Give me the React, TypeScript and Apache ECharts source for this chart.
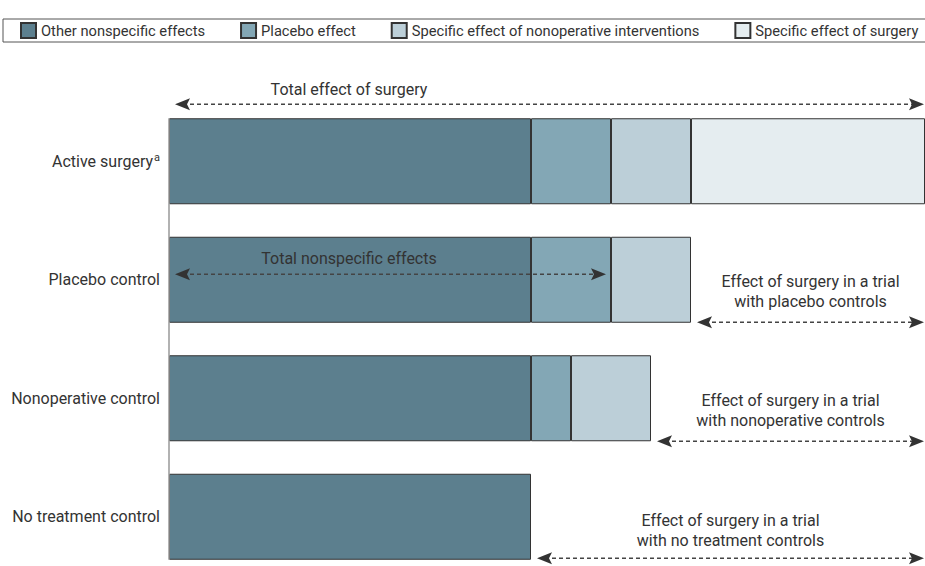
import React, { useEffect, useRef } from "react";
import * as echarts from "echarts";

const categories = ["Active surgery", "Placebo control", "Nonoperative control", "No treatment control"];
const seriesNames = [
  "Other nonspecific effects",
  "Placebo effect",
  "Specific effect of nonoperative interventions",
  "Specific effect of surgery",
];
const otherNonspecific = [9.05, 9.05, 9.05, 9.05];
const placeboEffect: (number | null)[] = [2, 2, 1, null];
const specificNonoperative: (number | null)[] = [2, 2, 2, null];
const specificSurgery: (number | null)[] = [5.85, null, null, null];
const xMax = 18.9;

const colors = ["#5c7f8e", "#83a7b5", "#bccfd8", "#e5edf0"];
const FONT = "Roboto, 'Noto Sans', sans-serif";

// annotation definitions: which row, span in data units, and label text
const annotations = [
  { text: "Total effect of surgery", row: 0, from: 0, to: xMax, lineDy: -57, labelX: 4.5, labelDy: -72, padR: 1 },
  { text: "Total nonspecific effects", row: 1, from: 0, to: 11.05, lineDy: -5.5, labelX: 4.5, labelDy: -21, padR: 5 },
  { text: "Effect of surgery in a trial\nwith placebo controls", row: 1, from: 13.05, to: xMax, lineDy: 42.5, labelX: null, labelDy: 12, padR: 1 },
  { text: "Effect of surgery in a trial\nwith nonoperative controls", row: 2, from: 12.05, to: xMax, lineDy: 43, labelX: null, labelDy: 12, padR: 1 },
  { text: "Effect of surgery in a trial\nwith no treatment controls", row: 3, from: 9.05, to: xMax, lineDy: 41.5, labelX: null, labelDy: 13.5, padR: 1 },
];

export default function App() {
  const ref = useRef<HTMLDivElement>(null);
  useEffect(() => {
    if (!ref.current) return;
    const chart = echarts.init(ref.current, null, { renderer: "svg" });
    const dataSets = [otherNonspecific, placeboEffect, specificNonoperative, specificSurgery];
    chart.setOption({
      animation: false,
      textStyle: { fontFamily: FONT },
      legend: {
        left: 3,
        top: 19,
        width: 960,
        padding: [3, 40, 3, 17],
        borderColor: "#555",
        borderWidth: 1,
        itemWidth: 15,
        itemHeight: 15,
        itemGap: 35,
        icon: "rect",
        data: seriesNames,
        textStyle: { fontSize: 14.7, color: "#333", fontFamily: FONT },
        selectedMode: false,
      },
      grid: { left: 169, top: 102, width: 756, height: 474, containLabel: false },
      xAxis: { type: "value", min: 0, max: xMax, show: false },
      yAxis: {
        type: "category",
        inverse: true,
        data: categories,
        axisLine: { show: false },
        axisTick: { show: false },
        axisLabel: {
          margin: 9,
          color: "#333",
          fontSize: 16,
          fontFamily: FONT,
          formatter: (v: string) => (v === "Active surgery" ? `{n|${v}}{s|a}` : `{n|${v}}`),
          rich: {
            n: { fontSize: 16, color: "#333", fontFamily: FONT },
            s: { fontSize: 11, color: "#333", fontFamily: FONT, verticalAlign: "top", padding: [0, 0, 8, 1] },
          },
        },
      },
      series: dataSets.map((d, i) => ({
        name: seriesNames[i],
        type: "bar",
        stack: "total",
        barWidth: 86,
        data: d.map((v) => (v == null ? "-" : v)),
        itemStyle: { color: colors[i], borderColor: "#333", borderWidth: 1 },
        emphasis: { disabled: true },
      })),
    });

    const px = (x: number, row: number) => chart.convertToPixel({ gridIndex: 0 }, [x, row]) as number[];
    const graphics: any[] = [];
    const top = px(0, 0)[1] - 43;
    const bottom = px(0, categories.length - 1)[1] + 43;
    const x0 = px(0, 0)[0];
    graphics.push({
      type: "line",
      z: 50,
      shape: { x1: x0, y1: top, x2: x0, y2: bottom },
      style: { stroke: "#999", lineWidth: 1.5 },
    });
    const arrowLen = 15;
    const half = 6;
    const notch = 3;
    annotations.forEach((a) => {
      const c = px(a.from, a.row);
      const e = px(a.to, a.row);
      const y = c[1] + a.lineDy;
      const xl = c[0] + 6;
      const xr = e[0] - a.padR;
      graphics.push({
        type: "line",
        z: 100,
        shape: { x1: xl + 8, y1: y, x2: xr - 8, y2: y },
        style: { stroke: "#444", lineWidth: 1.3, lineDash: [4, 3] },
      });
      graphics.push({
        type: "polygon",
        z: 101,
        shape: {
          points: [
            [xl, y],
            [xl + arrowLen, y - half],
            [xl + arrowLen - notch, y],
            [xl + arrowLen, y + half],
          ],
        },
        style: { fill: "#333" },
      });
      graphics.push({
        type: "polygon",
        z: 101,
        shape: {
          points: [
            [xr, y],
            [xr - arrowLen, y - half],
            [xr - arrowLen + notch, y],
            [xr - arrowLen, y + half],
          ],
        },
        style: { fill: "#333" },
      });
      const lx = a.labelX == null ? (xl + xr) / 2 : px(a.labelX, a.row)[0];
      graphics.push({
        type: "text",
        z: 102,
        x: lx,
        y: c[1] + a.labelDy,
        style: {
          text: a.text,
          textAlign: "center",
          textVerticalAlign: "middle",
          fontSize: 16,
          fontFamily: FONT,
          lineHeight: 20,
          fill: "#333",
        },
      });
    });
    chart.setOption({ graphic: graphics });
    return () => chart.dispose();
  }, []);
  return (
    <div style={{ position: "absolute", left: 0, top: 0, width: 925, height: 566, overflow: "hidden" }}>
      <div ref={ref} style={{ width: 925, height: 600 }} />
    </div>
  );
}
